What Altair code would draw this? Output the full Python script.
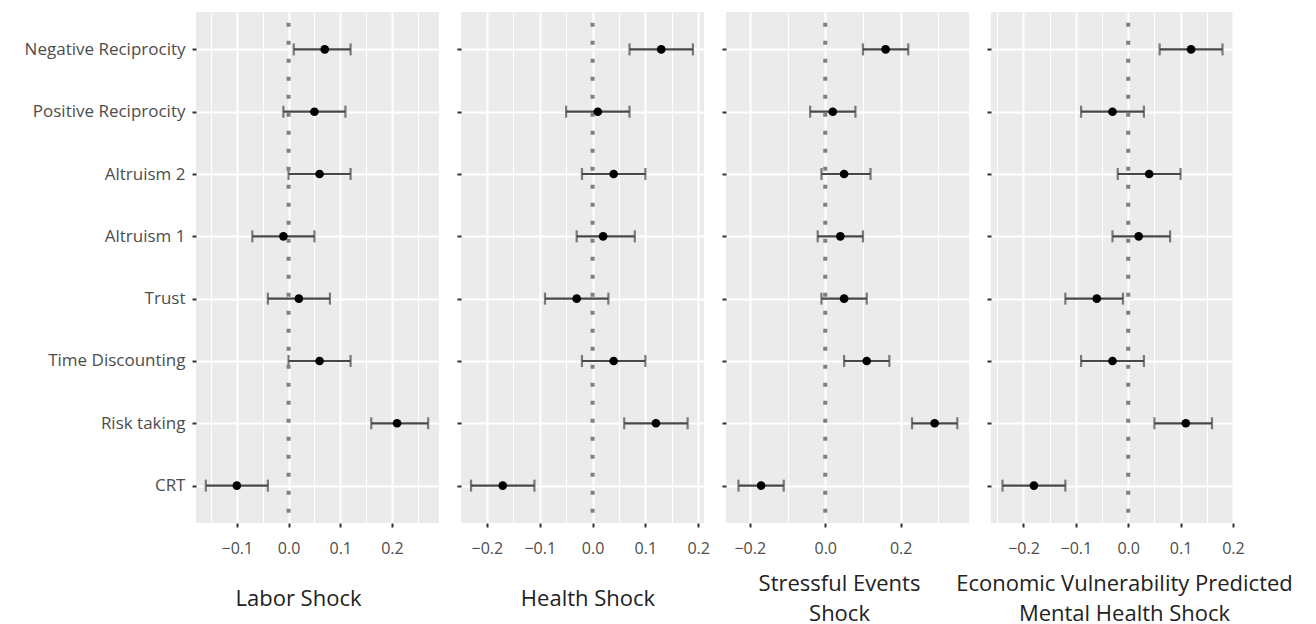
import altair as alt
import pandas as pd

categories = [
    "Negative Reciprocity",
    "Positive Reciprocity",
    "Altruism 2",
    "Altruism 1",
    "Trust",
    "Time Discounting",
    "Risk taking",
    "CRT",
]

panel_titles = [
    "Labor Shock",
    "Health Shock",
    ["Stressful Events", "Shock"],
    ["Economic Vulnerability Predicted", "Mental Health Shock"],
]

labor_est = [0.07, 0.05, 0.06, -0.01, 0.02, 0.06, 0.21, -0.10]
labor_lo = [0.01, -0.01, 0.0, -0.07, -0.04, 0.0, 0.16, -0.16]
labor_hi = [0.12, 0.11, 0.12, 0.05, 0.08, 0.12, 0.27, -0.04]

health_est = [0.13, 0.01, 0.04, 0.02, -0.03, 0.04, 0.12, -0.17]
health_lo = [0.07, -0.05, -0.02, -0.03, -0.09, -0.02, 0.06, -0.23]
health_hi = [0.19, 0.07, 0.10, 0.08, 0.03, 0.10, 0.18, -0.11]

stress_est = [0.16, 0.02, 0.05, 0.04, 0.05, 0.11, 0.29, -0.17]
stress_lo = [0.10, -0.04, -0.01, -0.02, -0.01, 0.05, 0.23, -0.23]
stress_hi = [0.22, 0.08, 0.12, 0.10, 0.11, 0.17, 0.35, -0.11]

econ_est = [0.12, -0.03, 0.04, 0.02, -0.06, -0.03, 0.11, -0.18]
econ_lo = [0.06, -0.09, -0.02, -0.03, -0.12, -0.09, 0.05, -0.24]
econ_hi = [0.18, 0.03, 0.10, 0.08, -0.01, 0.03, 0.16, -0.12]

reference_x = [0.0]

# axis settings per panel: domain, tick values (major + minor), major step
x_domains = [[-0.179, 0.291], [-0.249, 0.211], [-0.263, 0.381], [-0.262, 0.202]]
x_values = [
    [-0.15, -0.1, -0.05, 0.0, 0.05, 0.1, 0.15, 0.2, 0.25],
    [-0.2, -0.15, -0.1, -0.05, 0.0, 0.05, 0.1, 0.15, 0.2],
    [-0.2, -0.1, 0.0, 0.1, 0.2, 0.3],
    [-0.25, -0.2, -0.15, -0.1, -0.05, 0.0, 0.05, 0.1, 0.15, 0.2],
]
major_mult = [10, 10, 5, 10]
title_x = [102, 126.5, 113, 133]
title_y = [75, 75, 60, 60]

series = [
    (labor_est, labor_lo, labor_hi),
    (health_est, health_lo, health_hi),
    (stress_est, stress_lo, stress_hi),
    (econ_est, econ_lo, econ_hi),
]

W, H = 243, 511
BAR_COLOR = "#474747"


def make_panel(i):
    est, lo, hi = series[i]
    df = pd.DataFrame({"cat": categories, "est": est, "lo": lo, "hi": hi})
    m = major_mult[i]
    test = f"abs(datum.value*{m} - round(datum.value*{m})) < 0.001"
    x_axis = alt.Axis(
        values=x_values[i],
        labelExpr=f"({test}) ? format(datum.value, '.1f') : ''",
        labelOverlap=False,
        labelBound=False,
        labelFlush=False,
        title=panel_titles[i],
        grid=True,
        gridColor="white",
        gridWidth={"condition": {"test": test, "value": 2}, "value": 1},
        tickOpacity={"condition": {"test": test, "value": 1}, "value": 0},
        domain=False,
        tickColor="#333333",
        tickWidth=2,
        tickSize=4,
        labelColor="#4d4d4d",
        labelFontSize=16,
        labelPadding=13,
        titleFontSize=22,
        titleFontWeight="normal",
        titleColor="#222222",
        titleBaseline="middle",
        titleAlign="center",
        titleAnchor="start",
        titleX=title_x[i],
        titleY=title_y[i],
        titleLineHeight=30,
    )
    y_axis = alt.Axis(
        title=None,
        labels=(i == 0),
        labelColor="#4d4d4d",
        labelFontSize=17,
        labelPadding=7,
        ticks=True,
        tickColor="#333333",
        tickWidth=2,
        tickSize=4,
        grid=True,
        gridColor="white",
        gridWidth=2,
        domain=False,
        labelLimit=400,
    )
    x_scale = alt.Scale(domain=x_domains[i], nice=False, zero=False)
    y_enc = alt.Y(
        "cat:N",
        sort=categories,
        scale=alt.Scale(type="point", padding=0.6),
        axis=y_axis,
    )
    base = alt.Chart(df)
    bars = base.mark_rule(color=BAR_COLOR, strokeWidth=2.2).encode(
        x=alt.X("lo:Q", scale=x_scale, axis=x_axis), x2="hi:Q", y=y_enc
    )
    cap_lo = base.mark_tick(color=BAR_COLOR, size=12, thickness=2.2, orient="vertical").encode(
        x=alt.X("lo:Q", scale=x_scale, axis=x_axis), y=y_enc
    )
    cap_hi = base.mark_tick(color=BAR_COLOR, size=12, thickness=2.2, orient="vertical").encode(
        x=alt.X("hi:Q", scale=x_scale, axis=x_axis), y=y_enc
    )
    zero = alt.Chart(pd.DataFrame({"x": reference_x})).mark_rule(
        color="#808080", strokeWidth=4, strokeDash=[4, 14], strokeDashOffset=7.3
    ).encode(x=alt.X("x:Q", scale=x_scale, axis=x_axis))
    pts = base.mark_point(filled=True, color="black", size=75, opacity=1).encode(
        x=alt.X("est:Q", scale=x_scale, axis=x_axis), y=y_enc
    )
    return alt.layer(bars, cap_lo, cap_hi, zero, pts).properties(width=W, height=H)


chart = alt.hconcat(*[make_panel(i) for i in range(4)], spacing=22, bounds="flush").configure(
    font="Open Sans",
    padding={"left": 16, "top": 2, "right": 0, "bottom": 0},
).configure_view(fill="#EBEBEB", stroke=None)

chart.save("out.html", embed_options={"renderer": "svg", "actions": False})
